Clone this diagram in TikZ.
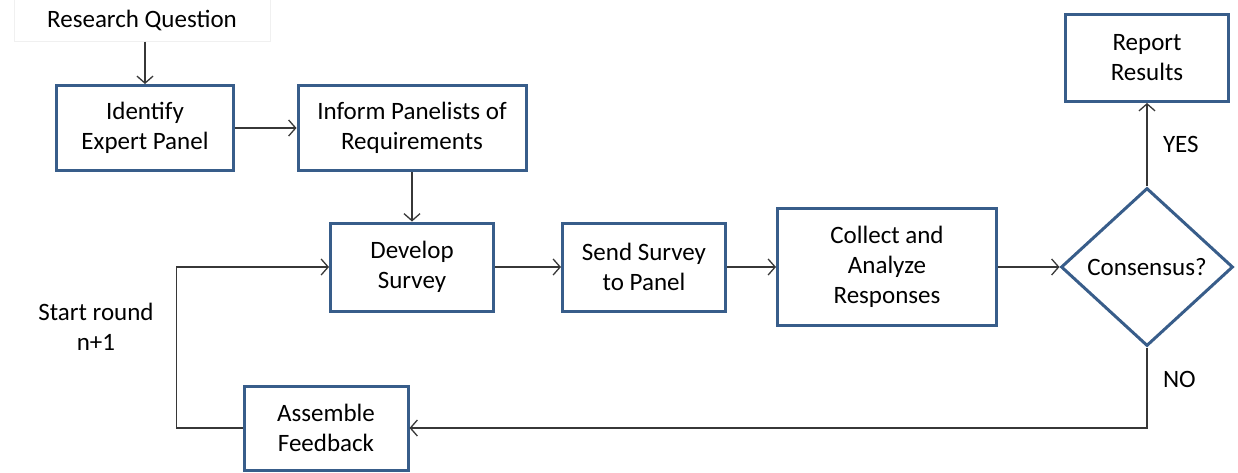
\documentclass[tikz,border=0pt]{standalone}
\usepackage{fontspec}
\setmainfont{Carlito}
\usetikzlibrary{shapes.geometric,arrows.meta}
\definecolor{boxblue}{RGB}{56,93,138}
\definecolor{linegray}{RGB}{55,55,55}

\begin{document}
\begin{tikzpicture}[x=1pt,y=-1pt,font=\fontsize{25}{30}\selectfont,
  stepbox/.style={draw=boxblue,line width=3pt,align=center,inner sep=0pt},
  link/.style={draw=linegray,line width=1.3pt,-{Straight Barb[length=7pt,width=16pt]}}]

\useasboundingbox (0,0) rectangle (1238,472);

% top row
\node[draw=gray!12,line width=1pt,minimum width=256pt,minimum height=42pt] (question) at (142,20) {Research Question};
\node[stepbox,minimum width=177pt,minimum height=85pt] (identify) at (145,128) {Identify\\Expert Panel};
\node[stepbox,minimum width=228pt,minimum height=85pt] (inform) at (412,128) {Inform Panelists of\\Requirements};
\node[stepbox,minimum width=163pt,minimum height=87pt] (report) at (1147,58) {Report\\Results};

% middle row
\node[stepbox,minimum width=163pt,minimum height=88pt] (develop) at (412,267) {Develop\\Survey};
\node[stepbox,minimum width=163pt,minimum height=88pt] (send) at (644,267) {Send Survey\\to Panel};
\node[stepbox,minimum width=219pt,minimum height=117pt] (collect) at (887,267) {Collect and\\Analyze\\Responses};
\node[stepbox,diamond,minimum width=172pt,minimum height=158pt] (consensus) at (1147,267) {Consensus?};

% bottom row
\node[stepbox,minimum width=164pt,minimum height=84pt] (feedback) at (326,428) {Assemble\\Feedback};
\node[align=center] (startround) at (96,327) {Start round\\n+1};

\draw[link] (question.south -| identify) -- (identify);
\draw[link] (identify) -- (inform);
\draw[link] (inform) -- (develop);
\draw[link] (develop) -- (send);
\draw[link] (send) -- (collect);
\draw[link] (collect) -- (consensus);
\draw[link] (consensus) -- node[right=12pt] {YES} (report);
\draw[link] (consensus.south) |- node[pos=0.2,right=12pt] {NO} (feedback.east);
\draw[link] (feedback.west) -- ++(-66,0) |- (develop.west);

\end{tikzpicture}
\end{document}
